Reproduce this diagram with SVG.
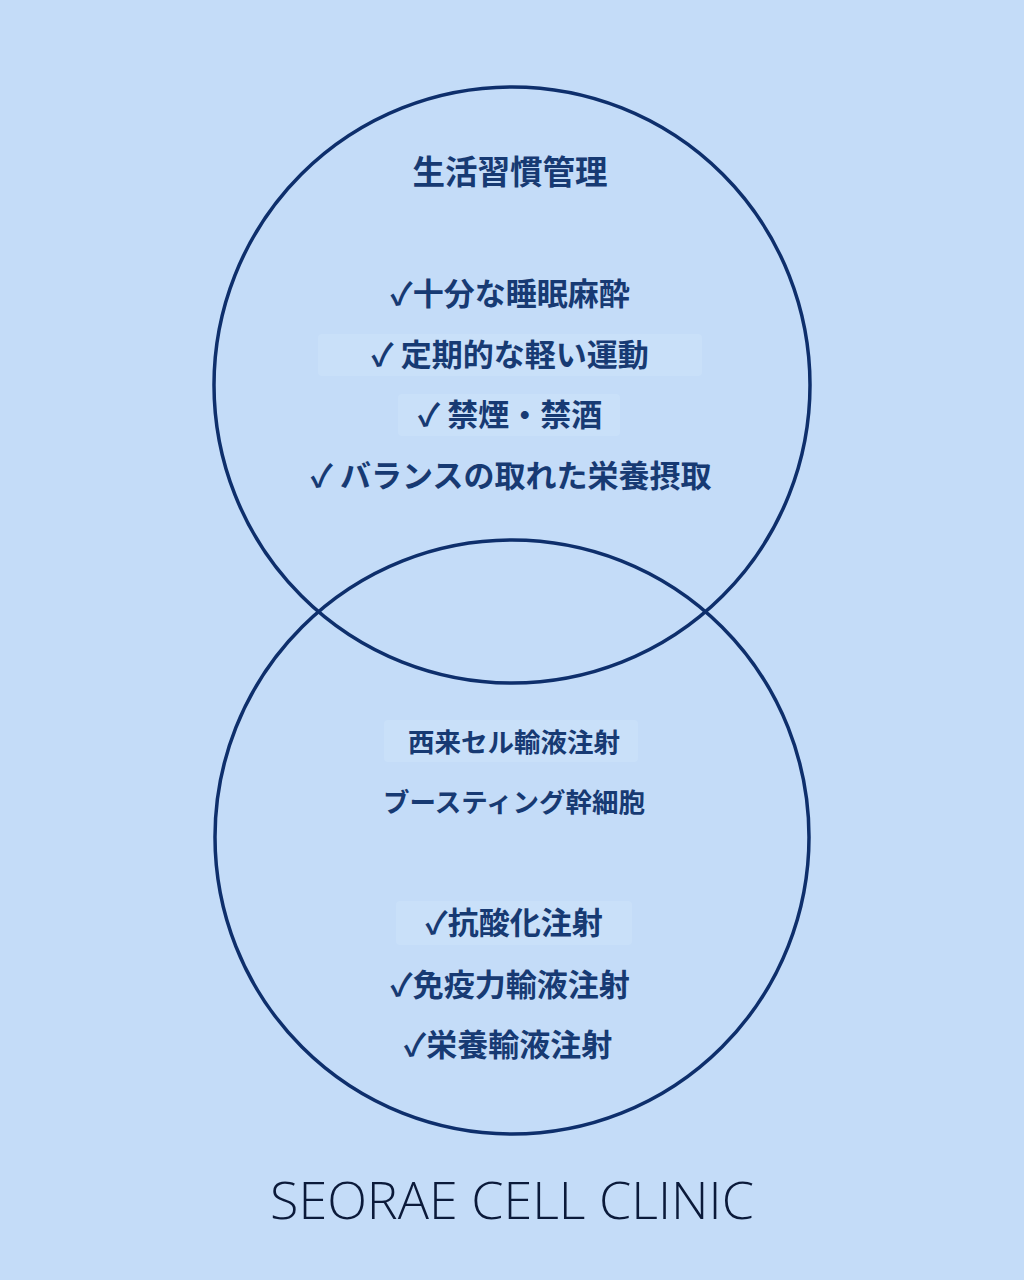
<svg xmlns="http://www.w3.org/2000/svg" width="1024" height="1280" viewBox="0 0 1024 1280">
<style>
.bg{fill:#c4dcf8}
.ring{fill:none;stroke:#0e2f6c;stroke-width:3.5}
.hl{fill:#c9e0f9}
.t{font-family:"Noto Sans CJK JP","Noto Sans",sans-serif;font-weight:700;fill:#173a73;text-anchor:middle}
.h{font-size:32.5px}
.i{font-size:31px}
.s{font-size:26.5px}
.brand{font-family:"Open Sans","Liberation Sans",sans-serif;font-weight:300;font-size:52px;fill:#0b1a3a;text-anchor:middle}
</style>
<rect class="bg" width="1024" height="1280"/>
<g id="connectors"></g>
<g id="top-circle">
<circle class="ring" cx="512" cy="385" r="298"/>
<rect class="hl" x="318" y="334" width="384" height="42" rx="4"/>
<rect class="hl" x="398" y="394" width="222" height="42" rx="4"/>
<text class="t h" x="510" y="184">生活習慣管理</text>
<text class="t i" x="510" y="305">✓十分な睡眠麻酔</text>
<text class="t i" x="510" y="366">✓ 定期的な軽い運動</text>
<text class="t i" x="510" y="426">✓ 禁煙・禁酒</text>
<text class="t i" x="511" y="487">✓ バランスの取れた栄養摂取</text>
</g>
<g id="bottom-circle">
<circle class="ring" cx="512" cy="837" r="297"/>
<rect class="hl" x="384" y="720" width="254" height="42" rx="4"/>
<rect class="hl" x="396" y="901" width="236" height="44" rx="4"/>
<text class="t s" x="514" y="752">西来セル輸液注射</text>
<text class="t s" x="514" y="812">ブースティング幹細胞</text>
<text class="t i" x="514" y="934">✓抗酸化注射</text>
<text class="t i" x="510" y="996">✓免疫力輸液注射</text>
<text class="t i" x="508" y="1056">✓栄養輸液注射</text>
</g>
<g id="brand">
<text class="brand" x="512" y="1219">SEORAE CELL CLINIC</text>
</g>
</svg>
